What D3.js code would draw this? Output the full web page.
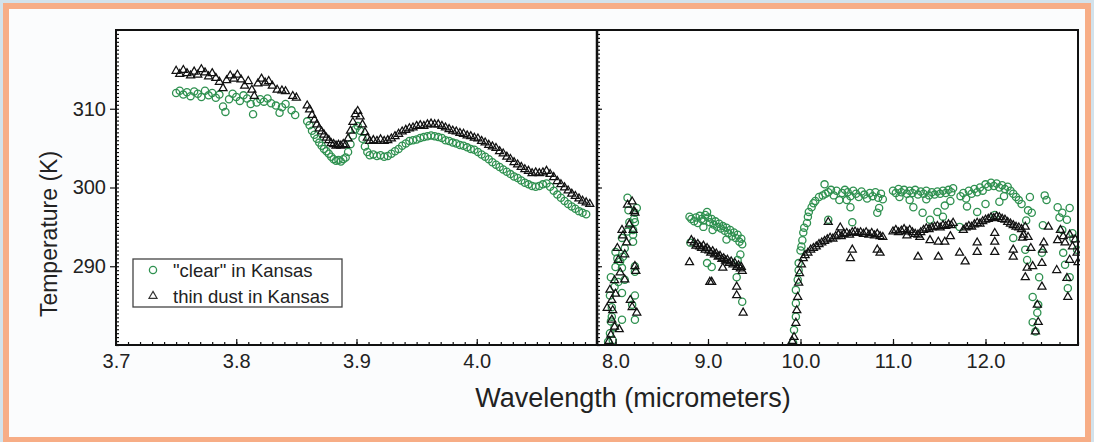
<!DOCTYPE html>
<html>
<head>
<meta charset="utf-8">
<script src="https://cdn.jsdelivr.net/npm/d3@7"></script>
<style>
  body { margin: 0; background: #d3e2eb; }
  svg { display: block; font-family: "Liberation Sans", Arial, sans-serif; }
</style>
</head>
<body>
<svg id="chart" width="1094" height="442"></svg>
<script>
// ---- data: [wavelength (um), brightness temperature (K)] ----

// short-wave panel, 3.7 - 4.1 um
var dustSW = [
  [3.750,314.8],[3.753,314.4],[3.756,314.9],[3.759,314.5],[3.762,314.2],[3.765,314.7],[3.768,314.3],
  [3.771,315.0],[3.774,314.6],[3.777,314.1],[3.780,314.5],[3.783,313.9],[3.786,313.4],[3.789,312.6],
  [3.792,313.6],[3.795,314.2],[3.798,313.8],[3.801,314.3],[3.804,313.7],[3.807,312.9],[3.810,313.5],
  [3.813,312.4],[3.815,311.6],[3.818,313.2],[3.821,313.8],[3.824,313.3],[3.827,313.5],[3.830,312.9],
  [3.834,312.4],[3.838,312.3],[3.841,312.2],[3.847,311.6],[3.850,311.4],
  [3.859,310.4],[3.861,309.9],[3.863,309.2],[3.865,308.6],[3.867,308.0],[3.869,307.5],[3.871,307.1],
  [3.873,306.7],[3.875,306.3],[3.877,306.0],[3.879,305.6],[3.881,305.5],[3.883,305.3],[3.885,305.4],
  [3.887,305.3],[3.889,305.5],[3.891,305.4],[3.893,306.2],[3.895,307.2],[3.897,308.3],[3.899,309.3],
  [3.901,309.7],[3.903,309.0],[3.905,308.0],[3.907,307.0],[3.909,306.3],[3.911,305.9],[3.914,306.0],
  [3.917,305.9],[3.920,306.1],[3.923,305.9],[3.926,306.0],[3.929,306.2],[3.932,306.5],[3.935,306.8],
  [3.938,307.1],[3.941,307.3],[3.944,307.5],[3.947,307.6],[3.950,307.8],[3.953,307.9],[3.956,307.8],
  [3.959,308.0],[3.962,308.1],[3.965,308.0],[3.968,308.0],[3.971,307.8],[3.974,307.6],[3.977,307.4],
  [3.980,307.2],[3.983,307.1],[3.986,306.9],[3.989,306.8],[3.992,306.6],[3.995,306.5],[3.998,306.3],
  [4.001,306.2],[4.004,305.9],[4.007,305.7],[4.010,305.4],[4.013,305.2],[4.016,305.0],[4.019,304.6],
  [4.022,304.3],[4.025,303.9],[4.028,303.6],[4.031,303.2],[4.034,302.9],[4.037,302.6],[4.040,302.3],
  [4.043,302.1],[4.046,301.8],[4.049,301.9],[4.052,301.8],[4.055,301.9],[4.058,302.1],[4.061,301.7],
  [4.064,301.3],[4.067,300.8],[4.070,300.4],[4.073,300.0],[4.076,299.6],[4.079,299.2],[4.082,298.9],
  [4.085,298.6],[4.088,298.3],[4.091,298.1],[4.094,297.9]
];
var clearSW = [
  [3.750,312.0],[3.753,312.3],[3.756,311.8],[3.759,312.1],[3.762,311.6],[3.765,312.2],[3.768,311.9],
  [3.771,311.5],[3.774,312.3],[3.777,311.7],[3.780,312.0],[3.783,311.4],[3.786,311.8],[3.789,310.3],
  [3.791,309.6],[3.794,311.2],[3.797,311.9],[3.800,311.5],[3.803,311.0],[3.806,311.7],[3.809,311.3],
  [3.812,310.6],[3.814,309.3],[3.817,310.8],[3.820,311.2],[3.823,310.9],[3.826,311.3],[3.829,310.7],
  [3.833,310.4],[3.836,309.5],[3.838,310.2],[3.841,310.6],[3.846,309.8],[3.849,309.2],
  [3.859,308.4],[3.861,307.9],[3.863,307.2],[3.865,306.7],[3.867,306.2],[3.869,305.7],[3.871,305.3],
  [3.873,304.9],[3.875,304.6],[3.877,304.3],[3.879,303.9],[3.881,303.6],[3.883,303.4],[3.885,303.5],
  [3.887,303.3],[3.889,303.6],[3.891,303.8],[3.893,304.5],[3.895,305.5],[3.897,306.6],[3.899,307.4],
  [3.901,307.8],[3.903,307.2],[3.905,306.2],[3.907,305.2],[3.909,304.5],[3.911,304.1],[3.914,304.2],
  [3.917,304.0],[3.920,304.1],[3.923,303.9],[3.926,304.0],[3.929,304.3],[3.932,304.6],[3.935,304.9],
  [3.938,305.3],[3.941,305.6],[3.944,305.9],[3.947,306.0],[3.950,306.1],[3.953,306.3],[3.956,306.4],
  [3.959,306.5],[3.962,306.6],[3.965,306.5],[3.968,306.4],[3.971,306.3],[3.974,306.0],[3.977,305.9],
  [3.980,305.7],[3.983,305.6],[3.986,305.4],[3.989,305.3],[3.992,305.1],[3.995,304.9],[3.998,304.8],
  [4.001,304.5],[4.004,304.2],[4.007,303.9],[4.010,303.6],[4.013,303.2],[4.016,302.9],[4.019,302.6],
  [4.022,302.3],[4.025,302.0],[4.028,301.7],[4.031,301.4],[4.034,301.2],[4.037,300.9],[4.040,300.6],
  [4.043,300.4],[4.046,300.2],[4.049,300.1],[4.052,300.2],[4.055,300.4],[4.058,300.5],[4.061,300.1],
  [4.064,299.6],[4.067,299.1],[4.070,298.7],[4.073,298.3],[4.076,297.9],[4.079,297.6],[4.082,297.3],
  [4.085,297.0],[4.088,296.8],[4.091,296.6]
];

// long-wave panel, 7.8 - 13 um
var clearLW = [
  [7.92,280.4],[7.94,281.5],[7.95,283.0],[7.96,284.8],[7.96,283.6],[7.97,280.6],[7.99,282.3],[7.99,287.4],
  [7.94,286.3],[7.95,288.6],[8.00,289.9],[8.02,291.0],[8.00,291.8],[8.03,288.0],[8.05,290.6],[8.07,289.8],
  [8.07,293.6],[8.08,291.2],[8.07,286.6],[8.07,283.2],[8.10,288.3],[8.10,292.3],[8.13,294.4],[8.15,295.6],
  [8.14,297.1],[8.13,298.7],[8.19,294.0],[8.19,294.6],[8.19,293.1],[8.21,296.8],[8.21,295.6],[8.21,290.0],
  [8.21,289.3],[8.21,286.3],[8.18,285.1],[8.21,283.2],[8.23,297.4],[8.20,296.0],
  [8.80,296.3],[8.82,296.0],[8.85,295.7],[8.87,296.2],[8.89,295.5],[8.91,296.4],[8.93,296.0],[8.95,295.8],
  [8.97,296.5],[8.99,296.9],[9.00,296.2],[9.02,295.6],[9.04,296.0],[9.06,295.3],[9.08,295.7],[9.10,295.0],
  [9.12,295.4],[9.14,294.8],[9.16,295.1],[9.18,294.5],[9.20,294.9],[9.22,294.2],[9.24,294.6],[9.26,293.8],
  [9.28,294.3],[9.30,293.6],[9.32,294.0],[9.34,293.1],[9.36,293.5],[9.37,292.8],[8.81,293.0],[8.99,290.4],
  [9.04,289.9],[9.31,288.6],[9.32,290.8],[9.37,285.5],[9.35,291.5],[9.20,293.4],[9.05,294.6],[8.95,295.0],
  [9.92,280.3],[9.93,281.9],[9.95,283.6],[9.95,285.3],[9.95,287.0],[9.97,288.3],[9.98,289.5],[9.98,290.4],
  [10.00,292.0],[10.01,292.5],[10.02,293.3],[10.03,294.3],[10.04,294.9],[10.07,295.5],[10.08,296.3],
  [10.09,296.9],[10.12,297.5],[10.14,298.0],[10.16,298.3],[10.20,298.8],[10.24,299.0],[10.26,300.4],
  [10.27,299.2],[10.30,299.4],[10.33,299.7],[10.36,299.0],[10.39,299.6],[10.42,298.4],[10.45,299.3],
  [10.48,299.7],[10.51,299.4],[10.54,298.9],[10.57,299.6],[10.60,299.2],[10.63,298.8],[10.66,299.5],
  [10.69,299.1],[10.72,298.6],[10.75,299.3],[10.78,298.9],[10.81,299.4],[10.84,298.7],[10.87,299.2],
  [10.89,298.5],[10.30,295.9],[10.56,295.6],[10.83,296.8],[10.50,298.4],[10.54,297.5],[10.85,297.4],
  [11.00,299.6],[11.03,299.3],[11.06,299.8],[11.09,299.4],[11.12,299.7],[11.15,299.2],[11.18,299.6],
  [11.21,299.3],[11.24,299.7],[11.27,299.1],[11.30,299.5],[11.33,299.2],[11.36,299.6],[11.39,299.0],
  [11.42,299.4],[11.45,299.1],[11.48,299.5],[11.51,299.2],[11.54,299.6],[11.57,299.3],[11.60,299.7],
  [11.63,299.4],[11.65,299.9],[11.18,298.4],[11.22,297.5],[11.32,296.8],[11.40,295.9],[11.48,296.9],
  [11.54,296.3],[11.56,297.7],[11.62,298.3],[11.36,298.5],[11.07,298.8],
  [11.72,295.0],[11.73,298.9],[11.76,299.3],[11.79,298.6],[11.82,299.6],[11.85,299.2],[11.88,299.8],
  [11.91,299.4],[11.94,300.0],[11.97,299.6],[12.00,300.4],[12.03,300.1],[12.06,300.6],[12.09,300.2],
  [12.12,300.5],[12.15,300.0],[12.18,300.3],[12.21,299.8],[12.24,300.1],[12.27,299.6],[12.30,299.2],
  [12.33,298.8],[12.36,298.4],[12.39,297.9],[11.91,296.9],[12.10,296.5],[11.80,297.6],[12.00,297.9],
  [12.15,298.2],[12.30,293.6],[12.20,298.9],
  [12.48,298.8],[12.46,297.1],[12.50,296.8],[12.43,292.1],[12.45,290.8],[12.51,286.1],[12.56,284.1],
  [12.51,282.9],[12.54,281.7],[12.57,285.1],[12.61,291.7],[12.62,295.2],[12.66,298.4],[12.64,299.0],
  [12.44,295.8],[12.58,288.6],
  [12.78,297.5],[12.83,296.8],[12.91,297.4],[12.88,295.9],[12.94,294.2],[12.83,294.6],[12.84,291.7],
  [12.86,290.2],[12.91,288.6],[12.89,287.2],[12.99,292.1],[12.80,296.2],[12.95,293.5]
];
var dustLW = [
  [7.91,284.7],[7.93,280.5],[7.94,287.0],[7.95,281.3],[7.96,285.7],[7.96,283.2],[7.97,284.4],[7.99,282.3],
  [7.99,288.2],[8.00,286.5],[8.02,292.3],[8.03,290.8],[8.05,289.2],[8.07,294.6],[8.08,293.9],[8.10,288.3],
  [8.10,291.5],[8.12,293.0],[8.13,297.8],[8.16,285.7],[8.18,298.2],[8.18,284.8],[8.19,294.6],[8.21,296.8],
  [8.21,290.0],[8.22,289.4],[8.23,284.1],[8.20,297.0],[8.15,295.3],[8.04,282.0],
  [8.80,290.5],[8.82,293.3],[8.85,293.0],[8.87,292.6],[8.89,292.8],[8.91,292.5],[8.93,292.3],[8.95,292.6],
  [8.97,292.1],[8.99,292.3],[9.01,292.0],[9.03,291.7],[9.05,291.9],[9.07,291.5],[9.09,291.6],[9.11,291.2],
  [9.13,291.3],[9.15,290.9],[9.17,291.0],[9.19,290.7],[9.21,290.8],[9.23,290.4],[9.25,290.6],[9.27,290.2],
  [9.29,290.4],[9.31,289.9],[9.33,290.1],[9.35,289.7],[9.37,289.4],[9.02,288.0],[9.04,288.0],[9.16,289.8],
  [9.31,287.4],[9.31,286.3],[9.38,284.1],[9.36,289.9],
  [9.91,280.5],[9.93,281.0],[9.95,282.8],[9.96,284.4],[9.97,286.1],[9.98,287.9],[9.99,289.1],[10.01,290.2],
  [10.03,291.0],[10.05,291.4],[10.08,291.7],[10.11,292.1],[10.14,292.3],[10.17,292.5],[10.20,292.8],
  [10.23,293.0],[10.26,293.2],[10.29,293.4],[10.32,293.6],[10.35,293.5],[10.38,293.8],[10.41,294.0],
  [10.44,293.8],[10.47,294.1],[10.50,294.2],[10.53,294.0],[10.56,294.3],[10.59,294.4],[10.62,294.2],
  [10.65,294.3],[10.68,294.1],[10.71,294.3],[10.74,294.0],[10.77,294.2],[10.80,293.9],[10.83,294.1],
  [10.86,293.8],[10.89,293.7],[10.43,294.9],[10.54,291.0],[10.56,292.1],[10.83,292.1],[10.86,291.7],
  [10.30,295.6],
  [11.00,294.4],[11.03,294.6],[11.06,294.3],[11.09,294.5],[11.12,294.7],[11.15,294.4],[11.18,294.6],
  [11.21,294.3],[11.24,294.1],[11.27,294.0],[11.30,294.3],[11.33,294.6],[11.36,294.8],[11.39,294.7],
  [11.42,294.9],[11.45,295.0],[11.48,295.1],[11.51,294.9],[11.54,295.2],[11.57,295.1],[11.60,295.3],
  [11.63,295.2],[11.65,295.5],[11.29,293.7],[11.40,293.3],[11.49,293.1],[11.56,293.1],[11.27,291.2],
  [11.49,291.2],[11.15,293.9],[11.62,293.8],
  [11.72,291.7],[11.76,294.6],[11.79,294.9],[11.82,295.1],[11.85,295.0],[11.88,295.3],[11.91,295.5],
  [11.94,295.4],[11.97,295.7],[12.00,295.9],[12.03,296.0],[12.06,296.2],[12.09,296.1],[12.12,296.3],
  [12.15,296.2],[12.18,296.0],[12.21,295.9],[12.24,295.6],[12.27,295.4],[12.30,295.2],[12.33,295.0],
  [12.36,294.9],[12.39,294.7],[11.78,290.6],[11.91,293.0],[11.91,291.8],[12.10,294.2],[12.10,293.1],
  [12.10,291.8],[12.30,292.1],[12.30,291.2],[12.40,293.6],
  [12.43,295.0],[12.41,294.0],[12.46,293.7],[12.45,289.8],[12.43,288.6],[12.51,290.0],[12.56,285.1],
  [12.57,282.9],[12.54,281.7],[12.61,287.4],[12.61,290.4],[12.62,292.1],[12.68,295.0],[12.63,293.0],
  [12.49,292.3],
  [12.81,294.6],[12.78,293.3],[12.84,293.8],[12.91,294.0],[12.94,292.5],[12.91,290.8],[12.88,288.5],
  [12.89,286.1],[12.77,289.5],[13.00,290.5],[12.99,291.7],[12.86,293.0],[12.97,293.4]
];

var ticksSW = [3.7, 3.8, 3.9, 4.0];
var ticksLW = [8, 9, 10, 11, 12];
var ticksT = [290, 300, 310];
var legendLabels = ['"clear" in Kansas', "thin dust in Kansas"];

// ---- layout ----
var svg = d3.select("#chart");
var pTop = 30, pBottom = 345, pLeft = 116, pMid = 597, pRight = 1078;
var green = "#2f9150";

var xL = d3.scaleLinear().domain([3.7, 4.1]).range([pLeft, pMid]);
var xR = d3.scaleLinear().domain([7.8, 13.0]).range([pMid, pRight]);
var y = d3.scaleLinear().domain([280, 320]).range([pBottom, pTop]);

// orange frame around a white card
svg.append("rect").attr("x", 3).attr("y", 3).attr("width", 1088).attr("height", 445).attr("fill", "#f7ad86");
svg.append("rect").attr("x", 9).attr("y", 9).attr("width", 1076).attr("height", 428).attr("fill", "#fbfcfd");
svg.append("rect").attr("x", pLeft).attr("y", pTop).attr("width", pRight - pLeft).attr("height", pBottom - pTop).attr("fill", "#fff");

// clip each panel
var defs = svg.append("defs");
defs.append("clipPath").attr("id", "clipL").append("rect")
  .attr("x", pLeft).attr("y", pTop).attr("width", pMid - pLeft).attr("height", pBottom - pTop);
defs.append("clipPath").attr("id", "clipR").append("rect")
  .attr("x", pMid).attr("y", pTop).attr("width", pRight - pMid + 2).attr("height", pBottom - pTop);

var tri = d3.symbol().type(d3.symbolTriangle).size(28);

function drawPanel(x, clip, clear, dust) {
  var g = svg.append("g").attr("clip-path", "url(#" + clip + ")");
  g.selectAll(".clear").data(clear).enter().append("circle")
    .attr("class", "clear")
    .attr("cx", function(d) { return x(d[0]); })
    .attr("cy", function(d) { return y(d[1]); })
    .attr("r", 3.6)
    .attr("fill", "none").attr("stroke", green).attr("stroke-width", 1.3);
  g.selectAll(".dust").data(dust).enter().append("path")
    .attr("class", "dust")
    .attr("d", tri)
    .attr("transform", function(d) { return "translate(" + x(d[0]) + "," + y(d[1]) + ")"; })
    .attr("fill", "none").attr("stroke", "#111").attr("stroke-width", 1.25);
}
drawPanel(xL, "clipL", clearSW, dustSW);
drawPanel(xR, "clipR", clearLW, dustLW);

// ---- axes ----
function minorRange(a, b, step) {
  var out = [];
  for (var v = a; v <= b + 1e-9; v += step) out.push(+v.toFixed(3));
  return out;
}

// bottom ticks point inward
svg.append("g").attr("transform", "translate(0," + pBottom + ")")
  .call(d3.axisTop(xL).tickValues(minorRange(3.7, 4.1, 0.01)).tickSize(3).tickFormat(""));
svg.append("g").attr("transform", "translate(0," + pBottom + ")")
  .call(d3.axisTop(xL).tickValues(ticksSW.slice(1)).tickSize(6).tickFormat(""));
svg.append("g").attr("transform", "translate(0," + pBottom + ")")
  .call(d3.axisTop(xR).tickValues(minorRange(7.8, 13.0, 0.2)).tickSize(3).tickFormat(""));
svg.append("g").attr("transform", "translate(0," + pBottom + ")")
  .call(d3.axisTop(xR).tickValues(ticksLW).tickSize(6).tickFormat(""));

// bottom labels
svg.append("g").attr("class", "lab").attr("transform", "translate(0," + pBottom + ")")
  .call(d3.axisBottom(xL).tickValues(ticksSW).tickSize(0).tickPadding(9).tickFormat(d3.format(".1f")));
svg.append("g").attr("class", "lab").attr("transform", "translate(0," + pBottom + ")")
  .call(d3.axisBottom(xR).tickValues(ticksLW).tickSize(0).tickPadding(9).tickFormat(d3.format(".1f")));

// left axis: major ticks outward, minor inward
svg.append("g").attr("class", "lab").attr("transform", "translate(" + pLeft + ",0)")
  .call(d3.axisLeft(y).tickValues(ticksT).tickSize(6).tickPadding(4));
svg.append("g").attr("transform", "translate(" + pLeft + ",0)")
  .call(d3.axisRight(y).tickValues(minorRange(280, 320, 0.5)).tickSize(3).tickFormat(""));
svg.append("g").attr("transform", "translate(" + pMid + ",0)")
  .call(d3.axisRight(y).tickValues(minorRange(280, 320, 0.5)).tickSize(3).tickFormat(""));
svg.append("g").attr("transform", "translate(" + pMid + ",0)")
  .call(d3.axisRight(y).tickValues(ticksT).tickSize(5).tickFormat(""));

svg.selectAll(".domain").remove();
svg.selectAll(".tick line").attr("stroke", "#111").attr("stroke-width", 1.2);
svg.selectAll(".lab text").attr("font-size", 20).attr("fill", "#222")
  .attr("font-family", "'Liberation Sans', Arial, sans-serif");

// panel frames
svg.append("rect").attr("x", pLeft).attr("y", pTop).attr("width", pRight - pLeft).attr("height", pBottom - pTop)
  .attr("fill", "none").attr("stroke", "#111").attr("stroke-width", 2);
svg.append("line").attr("x1", pMid).attr("x2", pMid).attr("y1", pTop).attr("y2", pBottom)
  .attr("stroke", "#111").attr("stroke-width", 2.5);

// axis titles
svg.append("text").attr("x", 633).attr("y", 407).attr("text-anchor", "middle")
  .attr("font-size", 27).attr("fill", "#222").text("Wavelength (micrometers)");
svg.append("text").attr("transform", "translate(57,234) rotate(-90)").attr("text-anchor", "middle")
  .attr("font-size", 23).attr("fill", "#222").text("Temperature (K)");

// legend
var leg = svg.append("g");
leg.append("rect").attr("x", 133).attr("y", 259).attr("width", 209).attr("height", 48)
  .attr("fill", "#fff").attr("stroke", "#444").attr("stroke-width", 1.3);
leg.append("circle").attr("cx", 153).attr("cy", 270).attr("r", 3.6)
  .attr("fill", "none").attr("stroke", green).attr("stroke-width", 1.3);
leg.append("path").attr("d", tri).attr("transform", "translate(153,296)")
  .attr("fill", "none").attr("stroke", "#333").attr("stroke-width", 1.2);
leg.selectAll(".ltxt").data(legendLabels).enter().append("text")
  .attr("class", "ltxt")
  .attr("x", 173)
  .attr("y", function(d, i) { return 277 + i * 26; })
  .attr("font-size", 18.5).attr("fill", "#222")
  .text(function(d) { return d; });
</script>
</body>
</html>
